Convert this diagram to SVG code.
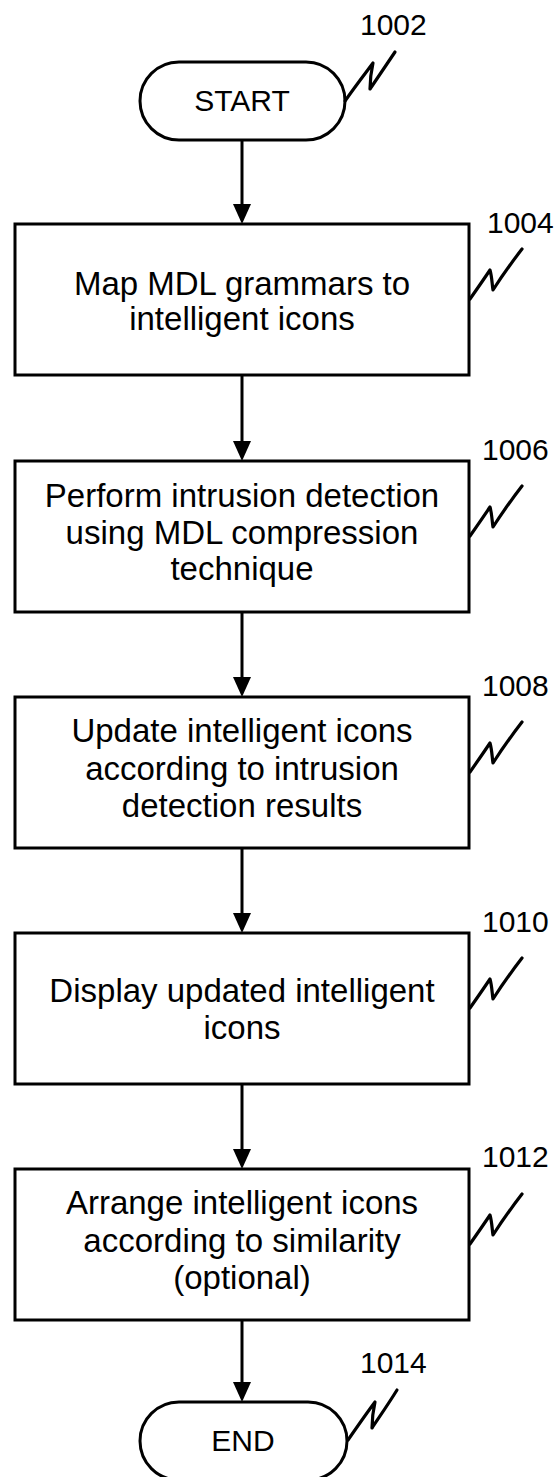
<svg xmlns="http://www.w3.org/2000/svg" width="560" height="1477" viewBox="0 0 560 1477">
<style>
.box{fill:#fff;stroke:#000;stroke-width:3}
.txt{font-family:"Liberation Sans",Arial,sans-serif;font-size:33px;fill:#000;text-anchor:middle}
.term{font-family:"Liberation Sans",Arial,sans-serif;font-size:30px;fill:#000;text-anchor:middle}
.lbl{font-family:"Liberation Sans",Arial,sans-serif;font-size:30px;fill:#000}
.sq{fill:none;stroke:#000;stroke-width:3.2;stroke-linejoin:round;stroke-linecap:round}
.conn{stroke:#000;stroke-width:3;fill:none}
</style>
<defs>
<marker id="ah" markerUnits="userSpaceOnUse" markerWidth="20" markerHeight="18" viewBox="0 0 20 18" refX="0" refY="9" orient="auto">
<path d="M0,0 L20,9 L0,18 z" fill="#000"/>
</marker>
</defs>
<rect width="560" height="1477" fill="#fff"/>
<g id="connectors">
<line class="conn" x1="242" y1="140" x2="242" y2="204" marker-end="url(#ah)"/>
<line class="conn" x1="242" y1="375" x2="242" y2="441" marker-end="url(#ah)"/>
<line class="conn" x1="242" y1="612" x2="242" y2="677" marker-end="url(#ah)"/>
<line class="conn" x1="242" y1="848" x2="242" y2="913" marker-end="url(#ah)"/>
<line class="conn" x1="242" y1="1084" x2="242" y2="1149" marker-end="url(#ah)"/>
<line class="conn" x1="242" y1="1320" x2="242" y2="1382" marker-end="url(#ah)"/>
</g>
<g id="n1002">
<rect class="box" x="140" y="62" width="205" height="78" rx="39"/>
<text class="term" x="242" y="111">START</text>
<path class="sq" d="M345,101 C354,88 364,75 373,63 C371,72 370,81 370,89 C378,77 387,64 395,52"/>
<text class="lbl" x="360" y="35">1002</text>
</g>
<g id="n1004">
<rect class="box" x="15" y="224" width="454" height="151"/>
<text class="txt" x="242" y="295">Map MDL grammars to</text>
<text class="txt" x="242" y="330">intelligent icons</text>
<path class="sq" d="M470,299 C477,289 484,279 490,270 C492,277 492,284 493,290 C502,276 512,262 522,249"/>
<text class="lbl" x="487" y="233">1004</text>
</g>
<g id="n1006">
<rect class="box" x="15" y="461" width="454" height="151"/>
<text class="txt" x="242" y="507">Perform intrusion detection</text>
<text class="txt" x="242" y="544">using MDL compression</text>
<text class="txt" x="242" y="580">technique</text>
<path class="sq" d="M470,536 C477,526 484,516 490,507 C492,514 492,521 493,527 C502,513 512,499 522,486"/>
<text class="lbl" x="482" y="460">1006</text>
</g>
<g id="n1008">
<rect class="box" x="15" y="697" width="454" height="151"/>
<text class="txt" x="242" y="742">Update intelligent icons</text>
<text class="txt" x="242" y="780">according to intrusion</text>
<text class="txt" x="242" y="817">detection results</text>
<path class="sq" d="M470,772 C477,762 484,752 490,743 C492,750 492,757 493,763 C502,749 512,735 522,722"/>
<text class="lbl" x="482" y="696">1008</text>
</g>
<g id="n1010">
<rect class="box" x="15" y="933" width="454" height="151"/>
<text class="txt" x="242" y="1002">Display updated intelligent</text>
<text class="txt" x="242" y="1039">icons</text>
<path class="sq" d="M470,1008 C477,998 484,988 490,979 C492,986 492,993 493,999 C502,985 512,971 522,958"/>
<text class="lbl" x="482" y="932">1010</text>
</g>
<g id="n1012">
<rect class="box" x="15" y="1169" width="454" height="151"/>
<text class="txt" x="242" y="1214">Arrange intelligent icons</text>
<text class="txt" x="242" y="1252">according to similarity</text>
<text class="txt" x="242" y="1289">(optional)</text>
<path class="sq" d="M470,1244 C477,1234 484,1224 490,1215 C492,1222 492,1229 493,1235 C502,1221 512,1207 522,1194"/>
<text class="lbl" x="482" y="1167">1012</text>
</g>
<g id="n1014">
<rect class="box" x="140" y="1402" width="207" height="78" rx="39"/>
<text class="term" x="243" y="1451">END</text>
<path class="sq" d="M348,1440 C357,1427 366,1414 375,1402 C373,1411 372,1420 372,1428 C380,1416 389,1403 397,1390"/>
<text class="lbl" x="360" y="1373">1014</text>
</g>
</svg>
